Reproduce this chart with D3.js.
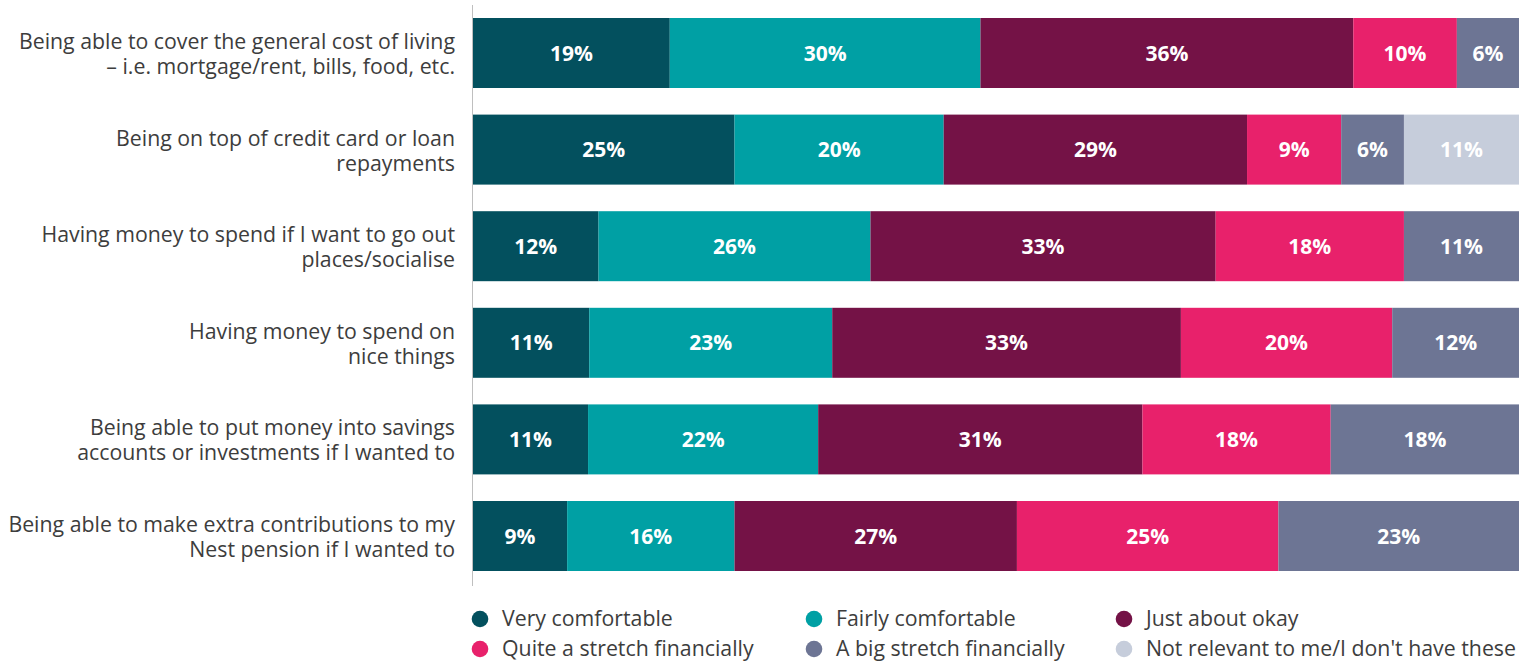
<!doctype html>
<html>
<head>
<meta charset="utf-8">
<style>
  body { margin: 0; background: #fff; }
  svg { display: block; font-family: "Open Sans", Lato, sans-serif; }
  .cat { fill: #3d3d3d; font-size: 21.3px; }
  .val { fill: #fff; font-size: 21px; font-weight: 700; }
  .leg { fill: #3d3d3d; font-size: 21.3px; }
</style>
<script src="https://d3js.org/d3.v7.min.js"></script>
</head>
<body>
<svg id="chart" width="1535" height="662"></svg>
<script>
// categories (two-line labels)
var categories = [
  ["Being able to cover the general cost of living", "\u2013 i.e. mortgage/rent, bills, food, etc."],
  ["Being on top of credit card or loan", "repayments"],
  ["Having money to spend if I want to go out", "places/socialise"],
  ["Having money to spend on", "nice things"],
  ["Being able to put money into savings", "accounts or investments if I wanted to"],
  ["Being able to make extra contributions to my", "Nest pension if I wanted to"]
];

var seriesNames = [
  "Very comfortable", "Fairly comfortable", "Just about okay",
  "Quite a stretch financially", "A big stretch financially", "Not relevant to me/I don't have these"
];
var seriesColors = ["#03505e", "#00a0a4", "#741246", "#e8216b", "#6d7594", "#c6cddb"];

var veryComfortable   = [19, 25, 12, 11, 11, 9];
var fairlyComfortable = [30, 20, 26, 23, 22, 16];
var justAboutOkay     = [36, 29, 33, 33, 31, 27];
var quiteAStretch     = [10, 9, 18, 20, 18, 25];
var bigStretch        = [6, 6, 11, 12, 18, 23];
var notRelevant       = [0, 11, 0, 0, 0, 0];

var series = [veryComfortable, fairlyComfortable, justAboutOkay, quiteAStretch, bigStretch, notRelevant];

var rows = categories.map(function(c, i) {
  var r = { idx: i };
  seriesNames.forEach(function(s, j) { r[s] = series[j][i]; });
  return r;
});

var svg = d3.select("#chart");
var plotLeft = 473, plotRight = 1519, plotTop = 5, plotBottom = 586;

// each bar is scaled to its own total (rounded shares do not always add to 100)
var stack = d3.stack().keys(seriesNames).offset(d3.stackOffsetExpand);
var stacked = stack(rows);

var x = d3.scaleLinear().domain([0, 1]).range([plotLeft, plotRight]);
var y = d3.scaleBand().domain(d3.range(categories.length)).range([plotTop, 584]).paddingInner(0.2754).paddingOuter(0.1346);

var layers = svg.append("g").selectAll("g")
  .data(stacked)
  .enter().append("g")
  .attr("fill", function(d, i) { return seriesColors[i]; });

layers.selectAll("rect")
  .data(function(d) { return d; })
  .enter().append("rect")
  .attr("x", function(d) { return x(d[0]); })
  .attr("y", function(d) { return y(d.data.idx); })
  .attr("width", function(d) { return x(d[1]) - x(d[0]); })
  .attr("height", y.bandwidth());

layers.selectAll("text")
  .data(function(d) { return d.filter(function(e) { return e[1] - e[0] > 0; }).map(function(e) { e.key = d.key; return e; }); })
  .enter().append("text")
  .attr("class", "val")
  .attr("x", function(d) { return (x(d[0]) + x(d[1])) / 2; })
  .attr("y", function(d) { return y(d.data.idx) + y.bandwidth() / 2; })
  .attr("dy", "0.36em")
  .attr("text-anchor", "middle")
  .text(function(d) { return d.data[d.key] + "%"; });

// axis line
svg.append("line")
  .attr("x1", plotLeft - 0.5).attr("x2", plotLeft - 0.5)
  .attr("y1", plotTop).attr("y2", plotBottom)
  .attr("stroke", "#bfbfbf").attr("stroke-width", 1);

// category labels
var labels = svg.append("g").selectAll("text")
  .data(categories)
  .enter().append("text")
  .attr("class", "cat")
  .attr("text-anchor", "end")
  .attr("y", function(d, i) { return y(i) + y.bandwidth() / 2; });
labels.selectAll("tspan")
  .data(function(d) { return d; })
  .enter().append("tspan")
  .attr("x", 455)
  .attr("dy", function(d, i) { return i === 0 ? -4 : 25; })
  .text(function(d) { return d; });

// legend
var legX = [480, 814, 1124];
var legY = [619, 649];
var legend = svg.append("g").selectAll("g")
  .data(seriesNames)
  .enter().append("g")
  .attr("transform", function(d, i) { return "translate(" + legX[i % 3] + "," + legY[Math.floor(i / 3)] + ")"; });
legend.append("circle").attr("r", 8.3).attr("fill", function(d, i) { return seriesColors[i]; });
legend.append("text")
  .attr("class", "leg")
  .attr("x", 22)
  .attr("dy", "0.35em")
  .text(function(d) { return d; });
</script>
</body>
</html>
